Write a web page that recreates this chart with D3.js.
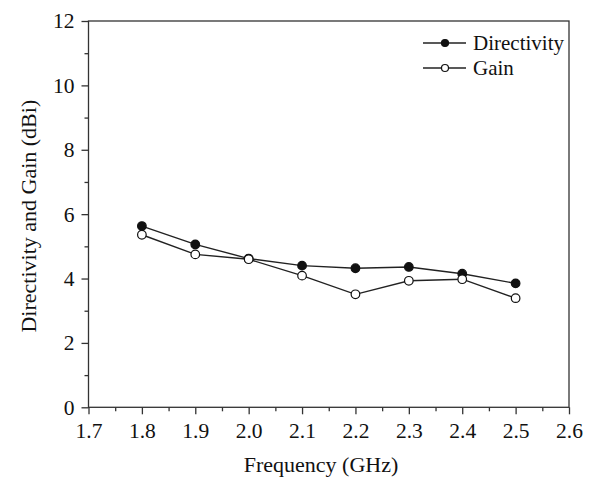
<!DOCTYPE html>
<html><head><meta charset="utf-8">
<script src="https://cdn.jsdelivr.net/npm/d3@7/dist/d3.min.js"></script>
<style>body{margin:0;background:#fff}text{font-family:"Liberation Serif","Times New Roman",serif;fill:#111}</style>
</head><body><svg id="c" width="598" height="481"></svg>
<script>
const freq = [1.8, 1.9, 2.0, 2.1, 2.2, 2.3, 2.4, 2.5];
const directivity = [5.63, 5.06, 4.62, 4.40, 4.32, 4.36, 4.15, 3.85];
const gain = [5.36, 4.75, 4.60, 4.09, 3.51, 3.93, 3.98, 3.39];
const xTicks = [1.7, 1.8, 1.9, 2.0, 2.1, 2.2, 2.3, 2.4, 2.5, 2.6];
const yTicks = [0, 2, 4, 6, 8, 10, 12];

const svg = d3.select("#c");
const L = 88.5, R = 569, T = 21, B = 407.3;
const x = d3.scaleLinear().domain([1.7, 2.6]).range([L, R]);
const y = d3.scaleLinear().domain([0, 12]).range([B, T]);
const ax = "#333";
const FS = 21;

// frame
svg.append("rect").attr("x", L).attr("y", T).attr("width", R - L).attr("height", B - T)
  .attr("fill", "none").attr("stroke", ax).attr("stroke-width", 1.3);

// x axis
svg.append("g").attr("transform", `translate(0,${B})`)
  .call(d3.axisBottom(x).tickValues(xTicks).tickFormat(d3.format(".1f")).tickSize(7).tickPadding(8));
svg.append("g").attr("transform", `translate(0,${B})`)
  .call(d3.axisBottom(x).tickValues(d3.range(0, 9).map(i => 1.75 + i * 0.1)).tickFormat("").tickSize(4));
// y axis
svg.append("g").attr("transform", `translate(${L},0)`)
  .call(d3.axisLeft(y).tickValues(yTicks).tickSize(7).tickPadding(7));
svg.append("g").attr("transform", `translate(${L},0)`)
  .call(d3.axisLeft(y).tickValues(d3.range(0, 6).map(i => 1 + i * 2)).tickFormat("").tickSize(4));
svg.selectAll(".domain").remove();
svg.selectAll(".tick line").attr("stroke", ax).attr("stroke-width", 1.3);
svg.selectAll(".tick text").style("font-family", '"Liberation Serif",serif').style("font-size", "21.5px").attr("fill", "#111");

// lines
const line = d3.line().x((d, i) => x(freq[i])).y(d => y(d));
[directivity, gain].forEach(data => {
  svg.append("path").datum(data).attr("d", line).attr("fill", "none").attr("stroke", "#222").attr("stroke-width", 1.4);
});
[[directivity, "#111"], [gain, "#fff"]].forEach(([data, fill]) => {
  svg.append("g").selectAll("circle").data(data).join("circle")
    .attr("cx", (d, i) => x(freq[i])).attr("cy", d => y(d)).attr("r", 4.3)
    .attr("fill", fill).attr("stroke", "#111").attr("stroke-width", 1.2);
});

// legend
const leg = [["Directivity", "#111", 43], ["Gain", "#fff", 68]];
leg.forEach(([name, fill, cy]) => {
  svg.append("line").attr("x1", 423).attr("x2", 466).attr("y1", cy).attr("y2", cy).attr("stroke", "#222").attr("stroke-width", 1.4);
  svg.append("circle").attr("cx", 445).attr("cy", cy).attr("r", 3.5).attr("fill", fill).attr("stroke", "#111").attr("stroke-width", 1.2);
  svg.append("text").attr("x", 473).attr("y", cy + 7).attr("font-size", FS).text(name);
});

// labels
svg.append("text").attr("x", 321).attr("y", 472).attr("text-anchor", "middle").attr("font-size", 22).text("Frequency (GHz)");
svg.append("text").attr("transform", `translate(36,${(T + B) / 2 + 2}) rotate(-90)`).attr("text-anchor", "middle").attr("font-size", 22).text("Directivity and Gain (dBi)");
</script></body></html>
